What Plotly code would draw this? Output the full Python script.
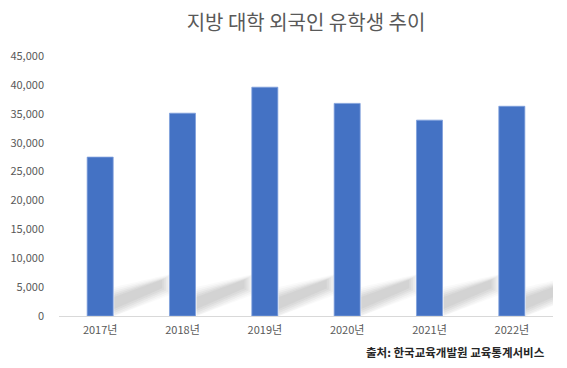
import plotly.graph_objects as go

categories = ["2017년", "2018년", "2019년", "2020년", "2021년", "2022년"]
students = [27500, 35100, 39600, 36800, 33900, 36300]
y_ticks = [0, 5000, 10000, 15000, 20000, 25000, 30000, 35000, 40000, 45000]
y_tick_labels = ["0", "5,000", "10,000", "15,000", "20,000", "25,000",
                 "30,000", "35,000", "40,000", "45,000"]

TITLE = "지방 대학 외국인 유학생 추이"
SOURCE = "출처: 한국교육개발원 교육통계서비스"

FONT = "Noto Sans CJK KR, Noto Sans, sans-serif"
BAR_COLOR = "#4472C4"

# the page body has an 8px default margin: compensate
OFF = 8
W, H = 567 - OFF, 368 - OFF
L, R, T, B = 59 - OFF, 14, 56 - OFF, 52
plot_w = W - L - R
plot_h = H - T - B
n = len(categories)
px_x = n / plot_w          # category units per px
ymax = 45000
px_y = ymax / plot_h       # value units per px
bar_frac = 0.316

fig = go.Figure()
fig.add_trace(go.Bar(
    x=list(range(n)), y=students,
    width=bar_frac,
    marker=dict(color=BAR_COLOR, line=dict(color="#7fa0dc", width=0.8)),
    hoverinfo="x+y",
))

# decorative soft shadows (layered translucent bands)
shapes = []
for i in range(n):
    xr = i + bar_frac / 2
    for grow, op in [(7, 0.035), (5, 0.045), (3, 0.055), (1, 0.065), (-1, 0.07), (-3, 0.07)]:
        pts = [
            (1, 4 - grow),
            (52 + grow, 26 - grow * 0.6),
            (52 + grow, 38 + grow * 0.6),
            (1, 22 + grow),
        ]
        path = "M " + " L ".join(
            f"{xr + dx * px_x},{max(dy, 0) * px_y}" for dx, dy in pts) + " Z"
        shapes.append(dict(type="path", path=path, xref="x", yref="y",
                           fillcolor="rgba(110,110,110,%.3f)" % op,
                           line=dict(width=0), layer="below"))

fig.update_layout(
    width=W, height=H,
    margin=dict(l=L, r=R, t=T, b=B, autoexpand=False),
    paper_bgcolor="white", plot_bgcolor="white",
    font=dict(family=FONT, size=11, color="#595959"),
    title=dict(text=TITLE, x=0.5, xanchor="center", xref="paper",
               y=1 - (23 - OFF) / H, yref="container", yanchor="middle",
               font=dict(family=FONT, size=20, color="#595959")),
    showlegend=False,
    bargap=0.684,
    shapes=shapes,
    xaxis=dict(
        tickmode="array", tickvals=list(range(n)), ticktext=categories,
        range=[-0.5, n - 0.5],
        showgrid=False, zeroline=False, automargin=False,
        showline=True, linecolor="#d9d9d9", linewidth=1,
        ticks="", ticklabelstandoff=4,
        tickfont=dict(family=FONT, size=11, color="#595959"),
        fixedrange=True,
    ),
    yaxis=dict(
        range=[0, ymax], tickmode="array", tickvals=y_ticks, ticktext=y_tick_labels,
        showgrid=False, zeroline=False, showline=False, automargin=False,
        ticks="", ticklabelstandoff=14,
        tickfont=dict(family=FONT, size=11, color="#595959"),
        fixedrange=True,
    ),
    annotations=[dict(
        text="<b>" + SOURCE + "</b>", xref="paper", yref="paper",
        x=(547 - 59) / plot_w, y=(316 - 352) / plot_h,
        xanchor="right", yanchor="middle", showarrow=False,
        font=dict(family=FONT, size=11.5, color="#262626"),
    )],
)

fig.write_html("out.html")
